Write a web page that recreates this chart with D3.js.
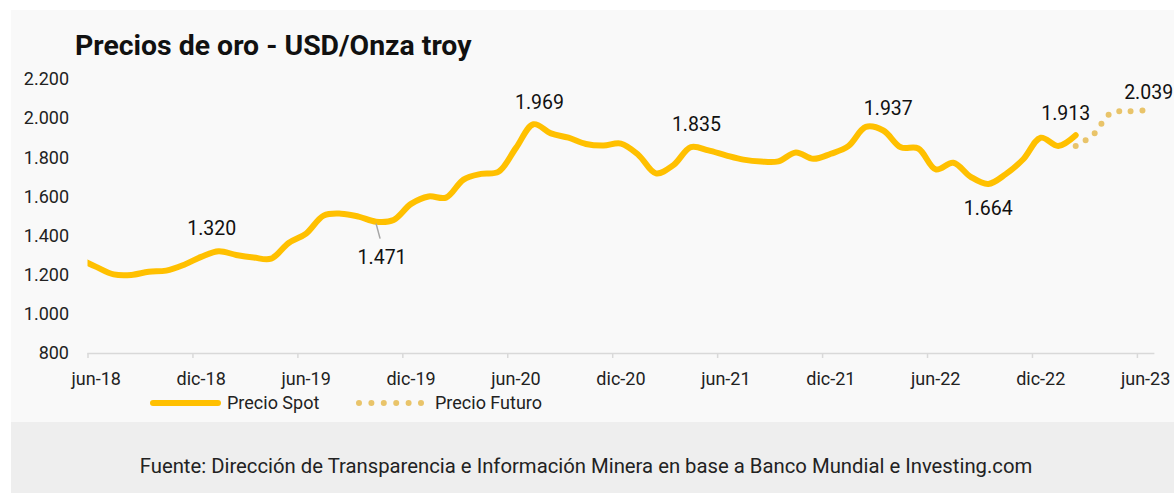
<!DOCTYPE html>
<html><head><meta charset="utf-8">
<script src="https://cdn.jsdelivr.net/npm/d3@7"></script>
<style>
html,body{margin:0;padding:0;background:#fff;}
svg{display:block;font-family:Roboto,"Open Sans",sans-serif;}
</style></head>
<body>
<svg id="c" width="1174" height="493"></svg>
<script>
// ---- data ----
const spotMonths = ["jun-18","jul-18","ago-18","sep-18","oct-18","nov-18","dic-18",
 "ene-19","feb-19","mar-19","abr-19","may-19","jun-19","jul-19","ago-19","sep-19","oct-19","nov-19","dic-19",
 "ene-20","feb-20","mar-20","abr-20","may-20","jun-20","jul-20","ago-20","sep-20","oct-20","nov-20","dic-20",
 "ene-21","feb-21","mar-21","abr-21","may-21","jun-21","jul-21","ago-21","sep-21","oct-21","nov-21","dic-21",
 "ene-22","feb-22","mar-22","abr-22","may-22","jun-22","jul-22","ago-22","sep-22","oct-22","nov-22","dic-22",
 "ene-23","feb-23","mar-23"];
const spotValues = [1282,1240,1202,1199,1215,1221,1250,
 1291,1320,1301,1288,1282,1362,1410,1502,1512,1497,1471,1480,
 1562,1600,1594,1686,1715,1726,1848,1969,1922,1900,1868,1860,
 1870,1812,1718,1760,1852,1835,1810,1788,1778,1779,1825,1792,
 1818,1857,1955,1937,1851,1845,1738,1772,1700,1664,1714,1790,
 1900,1858,1913];
const futureMonths = ["mar-23","abr-23","may-23","jun-23","jul-23"];
const futureValues = [1858,1915,2025,2035,2039];
const allMonths = spotMonths.concat(futureMonths.slice(1));
const tickLabels = ["jun-18","dic-18","jun-19","dic-19","jun-20","dic-20","jun-21","dic-21","jun-22","dic-22","jun-23"];
const yTicks = [800,1000,1200,1400,1600,1800,2000,2200];
const labelMonths = ["feb-19","nov-19","ago-20","jun-21","abr-22","oct-22","mar-23","jul-23"];
const labelTexts  = ["1.320","1.471","1.969","1.835","1.937","1.664","1.913","2.039"];

// ---- layout ----
const svg = d3.select("#c");
svg.append("rect").attr("x",11).attr("y",10).attr("width",1163).attr("height",412).attr("fill","#f9f9f9");
svg.append("rect").attr("x",11).attr("y",422).attr("width",1163).attr("height",71).attr("fill","#eeeeee");

const idx = m => allMonths.indexOf(m);
const x = d3.scaleLinear().domain([0.5, 61.5]).range([87.5, 1154.4]);
const y = d3.scaleLinear().domain([800, 2200]).range([353, 79]);
const fmt = v => d3.format(",")(v).replace(/,/g,".");

// title
svg.append("text").attr("x",75).attr("y",55).attr("font-size",28.4).attr("font-weight",700)
  .attr("fill","#111").text("Precios de oro - USD/Onza troy");

// y axis labels
svg.append("g").selectAll("text").data(yTicks).join("text")
  .attr("x",69).attr("y",d=>y(d)).attr("dy","0.35em").attr("text-anchor","end")
  .attr("font-size",18).attr("fill","#222").text(fmt);

// x axis
const tickIdx = tickLabels.map(t => idx(t) + 0.5);
const xAxis = d3.axisBottom(x).tickValues(tickIdx).tickSize(5).tickFormat("");
const gx = svg.append("g").attr("transform","translate(0,353)").call(xAxis);
gx.select(".domain").attr("stroke","#d9d9d9").attr("stroke-width",1.5).attr("d","M87.5,0.5H1154.4");
gx.selectAll(".tick line").attr("stroke","#d9d9d9").attr("stroke-width",1.5);
svg.append("g").selectAll("text").data(tickLabels).join("text")
  .attr("x",d=>x(idx(d)+1)).attr("y",385).attr("text-anchor","middle")
  .attr("font-size",18).attr("fill","#222").text(d=>d);

// clip
svg.append("clipPath").attr("id","clip").append("rect")
  .attr("x",87.5).attr("y",0).attr("width",1100).attr("height",493);

const line = d3.line().x(d=>x(d[0])).y(d=>y(d[1])).curve(d3.curveCatmullRom.alpha(0.5));

const spot = spotMonths.map((m,i)=>[idx(m), spotValues[i]]);
const fut = futureMonths.map((m,i)=>[idx(m), futureValues[i]]);

svg.append("path").datum(fut).attr("d",line).attr("fill","none")
  .attr("stroke","#e9c46a").attr("stroke-width",6).attr("stroke-linecap","round")
  .attr("stroke-dasharray","0 11.5");
svg.append("path").datum(spot).attr("d",line).attr("fill","none").attr("clip-path","url(#clip)")
  .attr("stroke","#ffc000").attr("stroke-width",6).attr("stroke-linejoin","round").attr("stroke-linecap","round");

// data labels
const labelOffsets = [[-7,-23],[6,35],[6,-22],[-12,-26],[5,-22],[0,24],[-10,-22],[3,-18]];
const valOf = m => { const i = spotMonths.indexOf(m); return i>=0 ? spotValues[i] : futureValues[futureMonths.indexOf(m)]; };
// leader line for 1.471
{
  const m = "nov-19", px = x(idx(m)), py = y(valOf(m));
  svg.append("line").attr("x1",px).attr("y1",py+2).attr("x2",px+4).attr("y2",py+17)
    .attr("stroke","#a6a6a6").attr("stroke-width",1.5);
}
svg.append("g").selectAll("text").data(labelMonths).join("text")
  .attr("x",(m,i)=>x(idx(m))+labelOffsets[i][0])
  .attr("y",(m,i)=>y(valOf(m))+labelOffsets[i][1])
  .attr("dy","0.35em").attr("text-anchor","middle")
  .attr("font-size",19.5).attr("fill","#111").text((m,i)=>labelTexts[i]);

// legend
const lg = svg.append("g");
lg.append("line").attr("x1",153).attr("x2",218).attr("y1",403).attr("y2",403)
  .attr("stroke","#ffc000").attr("stroke-width",6).attr("stroke-linecap","round");
lg.append("text").attr("x",227).attr("y",403).attr("dy","0.35em").attr("font-size",18).attr("fill","#222").text("Precio Spot");
lg.append("line").attr("x1",359).attr("x2",421).attr("y1",403).attr("y2",403)
  .attr("stroke","#e9c46a").attr("stroke-width",6).attr("stroke-linecap","round").attr("stroke-dasharray","0 12.4");
lg.append("text").attr("x",435).attr("y",403).attr("dy","0.35em").attr("font-size",18).attr("fill","#222").text("Precio Futuro");

// footer
svg.append("text").attr("x",586).attr("y",466).attr("dy","0.35em").attr("text-anchor","middle")
  .attr("font-size",20.3).attr("fill","#222")
  .text("Fuente: Dirección de Transparencia e Información Minera en base a Banco Mundial e Investing.com");
</script>
</body></html>
